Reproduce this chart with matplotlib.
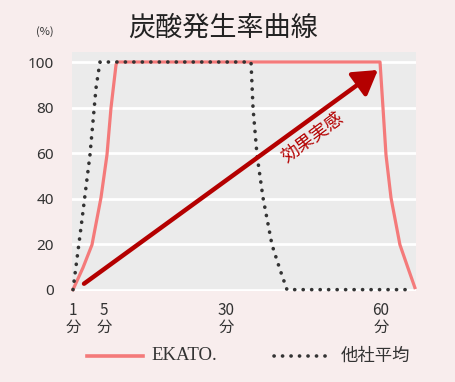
import numpy as np
import matplotlib
matplotlib.use("Agg")
import matplotlib.pyplot as plt
from matplotlib.patches import FancyArrowPatch

plt.rcParams['font.family'] = ['Noto Sans CJK JP', 'DejaVu Sans']

# Schematic x-axis: minute values mapped to non-linear positions
scale_minutes = [-100, 0.87, 1, 5, 30, 60, 66.8, 200]
scale_pos = [-100 * 7.75, 0, 1, 32, 154, 309, 344, 344 + (200 - 66.8) * 5.17]

x_ticks = [1, 5, 30, 60]
x_ticklabels = ["1\n分", "5\n分", "30\n分", "60\n分"]
y_ticks = [0, 20, 40, 60, 80, 100]

ekato_min = [1, 2.29, 3.45, 4.61, 5.61, 6.43, 7.46, 7.66,
             59.81, 60.39, 60.97, 61.94, 63.68, 65.23, 66.58]
ekato_val = [0, 9.65, 19.7, 40.4, 59.2, 79.8, 98.7, 100,
             100, 79.8, 59.2, 40.4, 19.7, 9.6, 0.9]

other_min = [1, 2.03, 3.19, 3.97, 4.48, 34.84, 35.23, 36.0, 37.16, 38.9, 40.45, 41.8, 65.03]
other_val = [0, 27.2, 59.2, 88.6, 100, 100, 79.8, 59.2, 40.4, 19.7, 8.8, 0, 0]

arrow_start = (2.42, 2.6)
arrow_end = (59.4, 96.5)
arrow_label = "効果実感"

title = "炭酸発生率曲線"
legend_labels = ["EKATO.", "他社平均"]

ekato_color = "#f47a7a"
other_color = "#333333"
arrow_color = "#b40000"
dot_style = (0, (0.05, 2.3))

fig = plt.figure(figsize=(4.55, 3.82), dpi=100)
fig.patch.set_facecolor("#f8eded")
ax = fig.add_axes([72 / 455, 1 - 291 / 382, 344 / 455, 239 / 382])

fwd = lambda m: np.interp(m, scale_minutes, scale_pos)
inv = lambda p: np.interp(p, scale_pos, scale_minutes)
ax.set_xscale('function', functions=(fwd, inv))

ax.set_facecolor("#ebebeb")
ax.set_xlim(0.87, 66.8)
ax.set_ylim(-0.6, 104.4)
for s in ax.spines.values():
    s.set_visible(False)
ax.set_yticks(y_ticks)
ax.set_yticklabels([str(v) for v in y_ticks], fontsize=11, color="#333333",
                   family=['Noto Sans', 'DejaVu Sans'])
ax.set_xticks(x_ticks)
ax.set_xticklabels(x_ticklabels, fontsize=11, color="#333333", linespacing=1.0)
ax.tick_params(length=0, pad=13, axis='y')
ax.tick_params(length=0, pad=8, axis='x')
ax.xaxis.set_minor_locator(matplotlib.ticker.NullLocator())
ax.grid(axis='y', color='white', linewidth=2)
ax.grid(axis='x', visible=False)
ax.set_axisbelow(True)

ax.plot(ekato_min, ekato_val, color=ekato_color, lw=2.3, solid_joinstyle='round', zorder=3, clip_on=False)
ax.plot(other_min, other_val, color=other_color, lw=2.6,
        linestyle=dot_style, dash_capstyle='round', zorder=4, clip_on=False)

arr = FancyArrowPatch(arrow_start, arrow_end, arrowstyle='-|>,head_length=9,head_width=5.5',
                      color=arrow_color, lw=3.2, mutation_scale=1.6, zorder=5,
                      shrinkA=0, shrinkB=0)
ax.add_patch(arr)
ax.text(46.8, 67, arrow_label, rotation=36.5, ha='center', va='center',
        color=arrow_color, fontsize=13, rotation_mode='anchor', zorder=6)

fig.text(223 / 455, 1 - 28 / 382, title, ha='center', va='center', fontsize=19.5, color="#222222")
fig.text(45 / 455, 1 - 32 / 382, "(%)", ha='center', va='center', fontsize=8, color="#333333")

# legend
fig.add_artist(plt.Line2D([87 / 455, 143 / 455], [1 - 356 / 382] * 2, color=ekato_color, lw=2.6))
fig.text(151 / 455, 1 - 356 / 382, legend_labels[0], ha='left', va='center', fontsize=13.5,
         color="#333333", family=['Liberation Serif'])
fig.add_artist(plt.Line2D([274 / 455, 330 / 455], [1 - 356 / 382] * 2, color=other_color, lw=2.6,
                          linestyle=dot_style, dash_capstyle='round'))
fig.text(341 / 455, 1 - 356 / 382, legend_labels[1], ha='left', va='center', fontsize=12.5,
         color="#333333")

fig.savefig("out.png", dpi=100, facecolor=fig.get_facecolor())
